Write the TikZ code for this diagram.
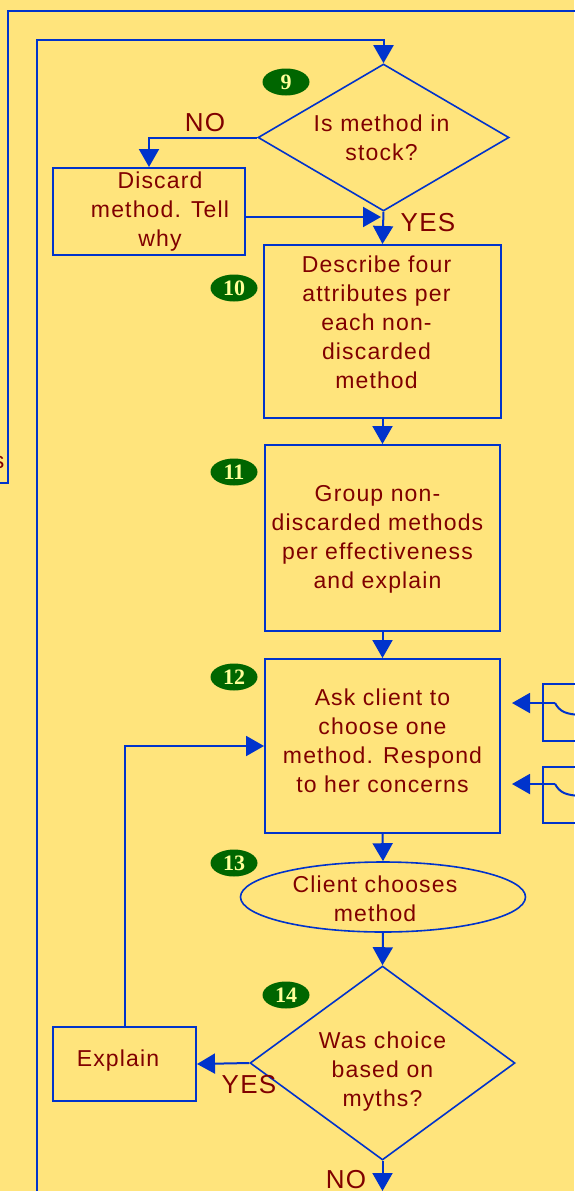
\documentclass[tikz,border=0pt]{standalone}
\usepackage{fontspec}
\setmainfont{Liberation Sans}[LetterSpace=5]
\newfontfamily\badgefont{Liberation Serif}
\definecolor{fcPaper}{HTML}{FFE47C}
\definecolor{fcLine}{HTML}{0033CC}
\definecolor{fcText}{HTML}{800000}
\definecolor{fcBadge}{HTML}{006600}
\definecolor{fcDigit}{HTML}{FFFF99}
\usetikzlibrary{arrows.meta,shapes.geometric}

\begin{document}
\begin{tikzpicture}[x=1pt, y=-1pt,
  every node/.style={text=fcText, font=\fontsize{23}{29}\selectfont},
  stepbox/.style={draw=fcLine, line width=2pt, inner sep=0pt},
  query/.style={diamond, draw=fcLine, line width=1.6pt, inner sep=0pt},
  words/.style={align=center, inner sep=0pt},
  badge/.style={ellipse, fill=fcBadge, minimum width=47pt, minimum height=27pt, inner sep=0pt,
    text=fcDigit, font=\badgefont\bfseries\fontsize{22}{22}\selectfont},
  answer/.style={font=\fontsize{26}{30}\selectfont},
  wire/.style={draw=fcLine, line width=2pt},
  flow/.style={wire, -{Triangle[length=18pt,width=20pt]}}]
  \fill[fcPaper] (0,0) rectangle (574,1191);
  \useasboundingbox (0,0) rectangle (574,1191);

  % frame coming in from the left, cut by the page
  \draw[wire] (-5,483) -- (8,483) -- (8,11) -- (580,11);
  \node[anchor=east] (cutlabel) at (8,462) {s};

  \node[query, minimum width=251pt, minimum height=147pt] (stock) at (383.5,137.5) {};
  \node[words] (stocktext) at ([shift={(-2,0)}]stock.center) {Is method in\\stock?};
  \node[badge] (b9) at (286,82) {9};
  \node[stepbox, minimum width=192pt, minimum height=87pt] (discard) at (149,211.5) {};
  \node[words] (discardtext) at ([shift={(11,0)}]discard.center) {Discard\\method. Tell\\why};
  \node[stepbox, minimum width=237pt, minimum height=173pt] (describe) at (382.5,331.5) {};
  \node[words] (describetext) at ([shift={(-6,-9.5)}]describe.center) {Describe four\\attributes per\\each non-\\discarded\\method};
  \node[badge] (b10) at (234,288) {10};
  \node[stepbox, minimum width=235pt, minimum height=186pt] (group) at (382.5,538) {};
  \node[words] (grouptext) at ([shift={(-5,1)}]group.center) {Group non-\\discarded methods\\per effectiveness\\and explain};
  \node[badge] (b11) at (234,472) {11};
  \node[stepbox, minimum width=235pt, minimum height=174pt] (ask) at (382.5,746) {};
  \node[words] (asktext) at ([shift={(0,-5)}]ask.center) {Ask client to\\choose one\\method. Respond\\to her concerns};
  \node[badge] (b12) at (234,677) {12};
  \node[ellipse, draw=fcLine, line width=1.6pt, minimum width=285pt, minimum height=70pt] (chooses) at (383,897) {};
  \node[words] (choosestext) at ([shift={(-8,2)}]chooses.center) {Client chooses\\method};
  \node[badge] (b13) at (234,863) {13};
  \node[query, minimum width=265pt, minimum height=194pt] (myths) at (382.5,1063) {};
  \node[words] (mythstext) at ([shift={(0,9)}]myths.center) {Was choice\\based on\\myths?};
  \node[badge] (b14) at (286,995) {14};
  \node[stepbox, minimum width=143pt, minimum height=74pt] (explain) at (124.5,1064) {};
  \node[words] (explaintext) at ([shift={(-6.5,-3)}]explain.center) {Explain};

  % boxes on the right, cut by the page
  \node[stepbox, anchor=north west, minimum width=60pt, minimum height=57pt] (sidea) at (542,683) {};
  \node[stepbox, anchor=north west, minimum width=60pt, minimum height=56pt] (sideb) at (542,766) {};
  \coordinate (tapa) at (555,703);
  \coordinate (tapb) at (555,784);
  \draw[wire] (tapa) .. controls (560,712) and (566,714) .. (580,715);
  \draw[wire] (tapb) .. controls (560,793) and (566,795) .. (580,796);
  \draw[flow, shorten >=11pt] (tapa) -- (tapa -| ask.east);
  \draw[flow, shorten >=11pt] (tapb) -- (tapb -| ask.east);

  \coordinate (loopfoot) at (37,1196);
  \coordinate (looptop) at (383.5,40);
  \coordinate (merge) at (381,217);
  \coordinate (nofoot) at (382.5,1191);
  \draw[flow] (loopfoot) |- (looptop) -- (stock.north);
  \draw[flow] (stock.west) -| (discard.north);
  \node[answer] (no9) at (205,123) {NO};
  \draw[flow] (discard.east |- merge) -- (merge);
  \draw[flow] (stock.south) -- (describe.north);
  \node[answer] (yes9) at (428,223) {YES};
  \draw[flow] (describe.south) -- (group.north);
  \draw[flow] (group.south) -- (ask.north);
  \draw[flow] (ask.south) -- (chooses.north);
  \draw[flow] (chooses.south) -- (myths.north);
  \draw[flow] (myths.west) -- (explain.east);
  \node[answer] (yes14) at (249,1085) {YES};
  \draw[flow] (explain.north) |- (ask.west);
  \draw[flow] (myths.south) -- (nofoot);
  \node[answer] (no14) at (346,1180) {NO};
\end{tikzpicture}
\end{document}
